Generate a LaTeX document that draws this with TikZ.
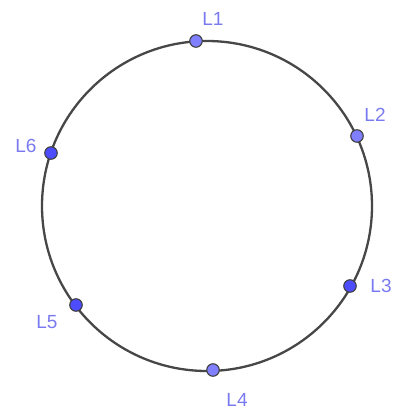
\documentclass[tikz,border=0pt]{standalone}
\usepackage{fontspec}
\setmainfont{Liberation Sans}
\begin{document}
\begin{tikzpicture}[x=1pt,y=-1pt,
  pt/.style={circle,draw=black!75,line width=1.1pt,inner sep=0pt,minimum size=12.5pt},
  ptlight/.style={pt,fill=lightpt},
  ptdark/.style={pt,fill=darkpt},
  lbl/.style={text=lbltext,font=\fontsize{19}{19}\selectfont,inner sep=0pt}]
\definecolor{lightpt}{HTML}{7F7FFF}
\definecolor{darkpt}{HTML}{4D4DFF}
\definecolor{lbltext}{HTML}{7A7AF0}
\useasboundingbox (0,0) rectangle (393,412);
\coordinate (c) at (207,206);
\draw[line width=2.3pt, draw=black!72] (c) circle (165);
\node[ptlight] (L1) at (196,41) {};
\node[ptlight] (L2) at (357,136) {};
\node[ptdark] (L3) at (350,286) {};
\node[ptlight] (L4) at (213,370) {};
\node[ptdark] (L5) at (76,305) {};
\node[ptdark] (L6) at (51,153) {};
\node[lbl] (t1) at (213,19) {L1};
\node[lbl] (t2) at (375,115) {L2};
\node[lbl] (t3) at (381,286) {L3};
\node[lbl] (t4) at (237,400) {L4};
\node[lbl] (t5) at (47,322) {L5};
\node[lbl] (t6) at (26,146) {L6};
\end{tikzpicture}
\end{document}
